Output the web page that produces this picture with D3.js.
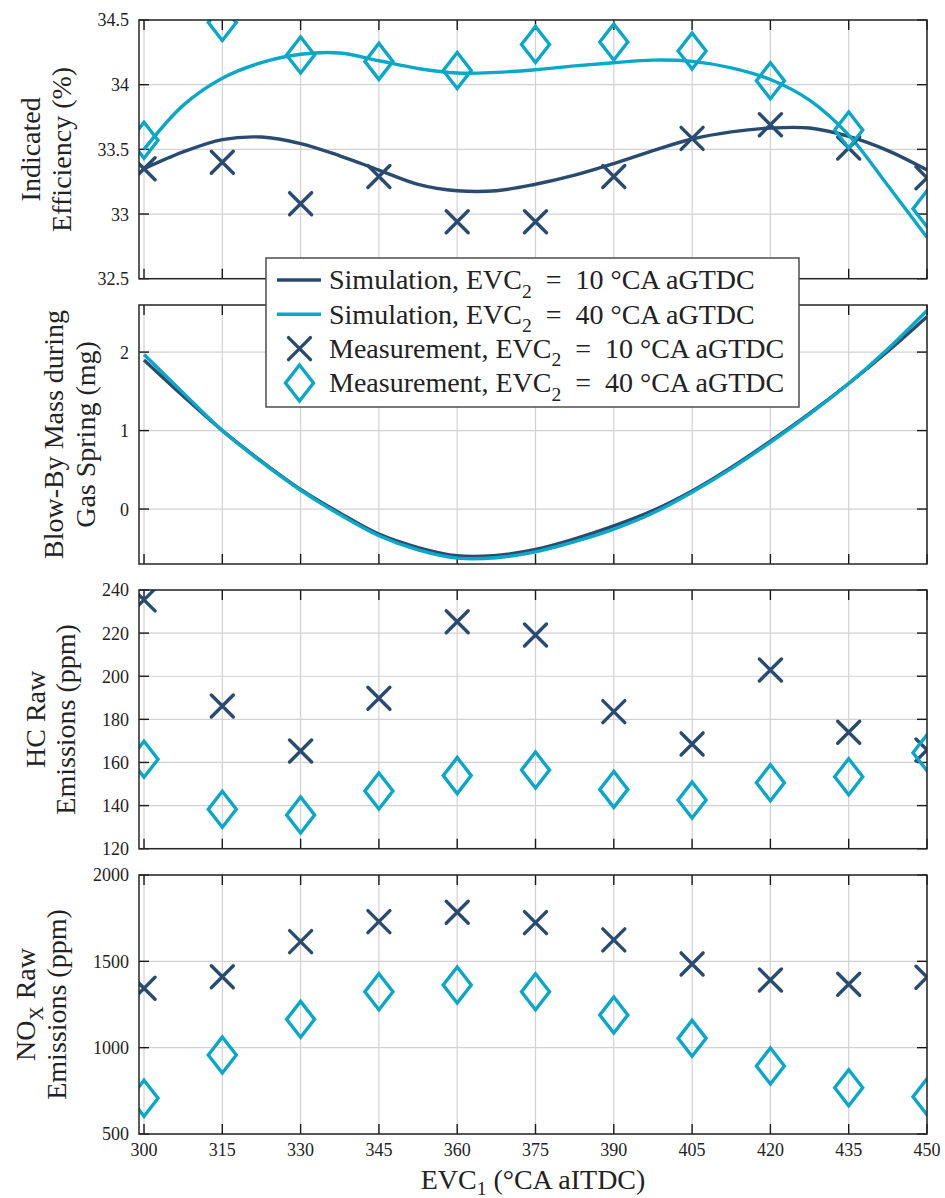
<!DOCTYPE html>
<html>
<head>
<meta charset="utf-8">
<script src="https://cdn.jsdelivr.net/npm/d3@7"></script>
<style>
  body { margin: 0; background: #fff; }
  svg { display: block; font-family: "Palatino Linotype", "Book Antiqua", Palatino, "Liberation Serif", serif; }
</style>
</head>
<body>
<div id="chart"></div>
<script>
// DATA
const X_MEAS = [300, 315, 330, 345, 360, 375, 390, 405, 420, 435, 450];
const X_SIM = [300, 307.5, 315, 322.5, 330, 337.5, 345, 352.5, 360, 367.5, 375,
               382.5, 390, 397.5, 405, 412.5, 420, 427.5, 435, 442.5, 450];

// indicated efficiency (%)
const EFF_SIM_10 = [33.35, 33.48, 33.575, 33.595, 33.545, 33.45, 33.34, 33.23, 33.18, 33.18, 33.23,
                    33.30, 33.39, 33.49, 33.58, 33.635, 33.665, 33.665, 33.60, 33.49, 33.34];
const EFF_SIM_40 = [33.50, 33.84, 34.05, 34.17, 34.235, 34.245, 34.185, 34.125, 34.09, 34.095, 34.115,
                    34.145, 34.17, 34.19, 34.18, 34.13, 34.04, 33.88, 33.61, 33.22, 32.82];
const EFF_MEAS_10 = [33.35, 33.40, 33.08, 33.29, 32.94, 32.94, 33.29, 33.585, 33.69, 33.51, 33.28];
const EFF_MEAS_40 = [33.57, 34.48, 34.23, 34.18, 34.11, 34.31, 34.33, 34.26, 34.03, 33.65, 33.04];

// blow-by mass during gas spring (mg)
const BB_SIM_10 = [1.90, 1.44, 1.00, 0.61, 0.25, -0.05, -0.32, -0.49, -0.595, -0.59, -0.515,
                   -0.38, -0.215, -0.02, 0.23, 0.53, 0.865, 1.22, 1.60, 2.01, 2.45];
const BB_SIM_40 = [1.97, 1.48, 1.00, 0.60, 0.24, -0.07, -0.34, -0.52, -0.625, -0.62, -0.545,
                   -0.415, -0.255, -0.05, 0.215, 0.515, 0.85, 1.21, 1.60, 2.04, 2.53];

// HC raw emissions (ppm)
const HC_MEAS_10 = [235.4, 186.2, 165.3, 189.8, 225.3, 219.1, 183.6, 168.6, 202.9, 174.0, 165.8];
const HC_MEAS_40 = [161.5, 138.3, 135.6, 146.8, 153.9, 156.5, 147.5, 142.6, 150.6, 153.4, 164.5];

// NOx raw emissions (ppm)
const NOX_MEAS_10 = [1344, 1411, 1614, 1730, 1784, 1724, 1624, 1485, 1392, 1367, 1408];
const NOX_MEAS_40 = [707, 958, 1164, 1324, 1363, 1324, 1189, 1054, 894, 768, 716];

// ticks
const X_TICKS = [300, 315, 330, 345, 360, 375, 390, 405, 420, 435, 450];
const EFF_TICKS = [32.5, 33, 33.5, 34, 34.5];
const BB_TICKS = [0, 1, 2];
const HC_TICKS = [120, 140, 160, 180, 200, 220, 240];
const NOX_TICKS = [500, 1000, 1500, 2000];

const LEGEND_LABELS = [
  ["Simulation, EVC", "2", "\u2002=\u200210 \u00B0CA aGTDC"],
  ["Simulation, EVC", "2", "\u2002=\u200240 \u00B0CA aGTDC"],
  ["Measurement, EVC", "2", "\u2002=\u200210 \u00B0CA aGTDC"],
  ["Measurement, EVC", "2", "\u2002=\u200240 \u00B0CA aGTDC"]
];

// FRAME
const FRAME_WIDTH = 945;
const FRAME_HEIGHT = 1198;
const LEFT = 139, RIGHT = 927;
const DARK = "#2a4b70";
const LIGHT = "#0aa8c8";
const TICK_LEN = 10;

const FRAME = d3.select("#chart")
                .append("svg")
                  .attr("width", FRAME_WIDTH)
                  .attr("height", FRAME_HEIGHT);

const X_SCALE = d3.scaleLinear()
                  .domain([299.04, 450])
                  .range([LEFT, RIGHT]);

// panel definitions
const PANELS = [
  {top: 20, bottom: 278.7, domain: [32.5, 34.5], ticks: EFF_TICKS,
   label: [["Indicated"], ["Efficiency (%)"]], labelX: [40, 71],
   lines: [[EFF_SIM_10, DARK], [EFF_SIM_40, LIGHT]],
   marks: [[EFF_MEAS_10, "x"], [EFF_MEAS_40, "d"]]},
  {top: 305, bottom: 564, domain: [-0.7, 2.6], ticks: BB_TICKS,
   label: [["Blow-By Mass during"], ["Gas Spring (mg)"]], labelX: [63, 95],
   lines: [[BB_SIM_10, DARK], [BB_SIM_40, LIGHT]],
   marks: []},
  {top: 590, bottom: 848.7, domain: [120, 240], ticks: HC_TICKS,
   label: [["HC Raw"], ["Emissions (ppm)"]], labelX: [45, 75],
   lines: [],
   marks: [[HC_MEAS_10, "x"], [HC_MEAS_40, "d"]]},
  {top: 875, bottom: 1134, domain: [500, 2000], ticks: NOX_TICKS,
   label: [["NO", "X", " Raw"], ["Emissions (ppm)"]], labelX: [35, 66],
   lines: [],
   marks: [[NOX_MEAS_10, "x"], [NOX_MEAS_40, "d"]]}
];

const X_PATH = "M-11,-11L11,11M-11,11L11,-11";
const D_PATH = "M0,-18L14,0L0,18L-14,0Z";

function drawMarker(sel, type) {
  sel.append("path")
      .attr("d", type === "x" ? X_PATH : D_PATH)
      .attr("fill", "none")
      .attr("stroke", type === "x" ? DARK : LIGHT)
      .attr("stroke-width", 3.4)
      .attr("stroke-linecap", "round")
      .attr("stroke-linejoin", "miter");
}

// writes text with an optional subscript part
function richText(sel, parts, size, shift) {
  const s = shift || 0.3;
  sel.append("tspan").text(parts[0]);
  if (parts.length > 1) {
    sel.append("tspan").attr("dy", size * s).attr("font-size", size * 0.7).text(parts[1]);
    sel.append("tspan").attr("dy", -size * s).text(parts[2]);
  }
}

PANELS.forEach((p, i) => {
  const Y_SCALE = d3.scaleLinear().domain(p.domain).range([p.bottom, p.top]);
  const g = FRAME.append("g");

  // clip region
  g.append("clipPath")
      .attr("id", "clip" + i)
    .append("rect")
      .attr("x", LEFT).attr("y", p.top)
      .attr("width", RIGHT - LEFT).attr("height", p.bottom - p.top);

  // grid
  g.selectAll(".vgrid")
      .data(X_TICKS)
      .enter()
      .append("line")
        .attr("x1", d => X_SCALE(d)).attr("x2", d => X_SCALE(d))
        .attr("y1", p.top).attr("y2", p.bottom)
        .attr("stroke", "#d2d2d2").attr("stroke-width", 1.2);
  g.selectAll(".hgrid")
      .data(p.ticks)
      .enter()
      .append("line")
        .attr("x1", LEFT).attr("x2", RIGHT)
        .attr("y1", d => Y_SCALE(d)).attr("y2", d => Y_SCALE(d))
        .attr("stroke", "#d2d2d2").attr("stroke-width", 1.2);

  // ticks inside on all four sides
  X_TICKS.forEach(t => {
    const x = X_SCALE(t);
    g.append("line").attr("x1", x).attr("x2", x).attr("y1", p.bottom).attr("y2", p.bottom - TICK_LEN)
        .attr("stroke", "#1a1a1a").attr("stroke-width", 1.4);
    g.append("line").attr("x1", x).attr("x2", x).attr("y1", p.top).attr("y2", p.top + TICK_LEN)
        .attr("stroke", "#1a1a1a").attr("stroke-width", 1.4);
  });
  p.ticks.forEach(t => {
    const y = Y_SCALE(t);
    g.append("line").attr("x1", LEFT).attr("x2", LEFT + TICK_LEN).attr("y1", y).attr("y2", y)
        .attr("stroke", "#1a1a1a").attr("stroke-width", 1.4);
    g.append("line").attr("x1", RIGHT).attr("x2", RIGHT - TICK_LEN).attr("y1", y).attr("y2", y)
        .attr("stroke", "#1a1a1a").attr("stroke-width", 1.4);
  });

  // y tick labels
  g.selectAll(".ylab")
      .data(p.ticks)
      .enter()
      .append("text")
        .attr("x", LEFT - 10)
        .attr("y", d => Y_SCALE(d))
        .attr("dy", "0.36em")
        .attr("text-anchor", "end")
        .attr("font-size", 18)
        .attr("fill", "#222")
        .text(d => d);

  // simulation lines
  const plot = g.append("g").attr("clip-path", "url(#clip" + i + ")");
  p.lines.forEach(([vals, color]) => {
    const line = d3.line()
                   .x((d, k) => X_SCALE(X_SIM[k]))
                   .y(d => Y_SCALE(d))
                   .curve(d3.curveCatmullRom.alpha(0.5));
    plot.append("path")
        .attr("d", line(vals))
        .attr("fill", "none")
        .attr("stroke", color)
        .attr("stroke-width", 3.4);
  });

  // measurement markers
  p.marks.forEach(([vals, type]) => {
    vals.forEach((v, k) => {
      const m = plot.append("g")
                    .attr("transform", "translate(" + X_SCALE(X_MEAS[k]) + "," + Y_SCALE(v) + ")");
      drawMarker(m, type);
    });
  });

  // axes box
  g.append("rect")
      .attr("x", LEFT).attr("y", p.top)
      .attr("width", RIGHT - LEFT).attr("height", p.bottom - p.top)
      .attr("fill", "none")
      .attr("stroke", "#262626")
      .attr("stroke-width", 1.5);

  // y label (two lines, rotated)
  const cy = (p.top + p.bottom) / 2;
  p.label.forEach((parts, j) => {
    const t = g.append("text")
                .attr("transform", "translate(" + p.labelX[j] + "," + cy + ") rotate(-90)")
                .attr("text-anchor", "middle")
                .attr("font-size", 28)
                .attr("fill", "#222");
    richText(t, parts, 28);
  });
});

// x tick labels
FRAME.selectAll(".xlab")
    .data(X_TICKS)
    .enter()
    .append("text")
      .attr("x", d => X_SCALE(d))
      .attr("y", 1156)
      .attr("text-anchor", "middle")
      .attr("font-size", 18)
      .attr("fill", "#222")
      .text(d => d);

// x axis label
const XL = FRAME.append("text")
                .attr("x", 533)
                .attr("y", 1189)
                .attr("text-anchor", "middle")
                .attr("font-size", 28)
                .attr("fill", "#222");
richText(XL, ["EVC", "1", " (\u00B0CA aITDC)"], 28, 0.2);

// LEGEND
const LEG = FRAME.append("g");
LEG.append("rect")
    .attr("x", 266).attr("y", 258)
    .attr("width", 533).attr("height", 149)
    .attr("fill", "#fff")
    .attr("stroke", "#4d4d4d")
    .attr("stroke-width", 1.5);

const LEG_Y = [280, 314.3, 348.6, 383];
LEGEND_LABELS.forEach((parts, k) => {
  const y = LEG_Y[k];
  if (k < 2) {
    LEG.append("line")
        .attr("x1", 277).attr("x2", 321)
        .attr("y1", y).attr("y2", y)
        .attr("stroke", k === 0 ? DARK : LIGHT)
        .attr("stroke-width", 3.4);
  } else {
    drawMarker(LEG.append("g").attr("transform", "translate(299.5," + y + ")"), k === 2 ? "x" : "d");
  }
  const t = LEG.append("text")
               .attr("x", 329)
               .attr("y", y)
               .attr("dy", "0.33em")
               .attr("font-size", 28)
               .attr("fill", "#222");
  richText(t, parts, 28);
});
</script>
</body>
</html>
